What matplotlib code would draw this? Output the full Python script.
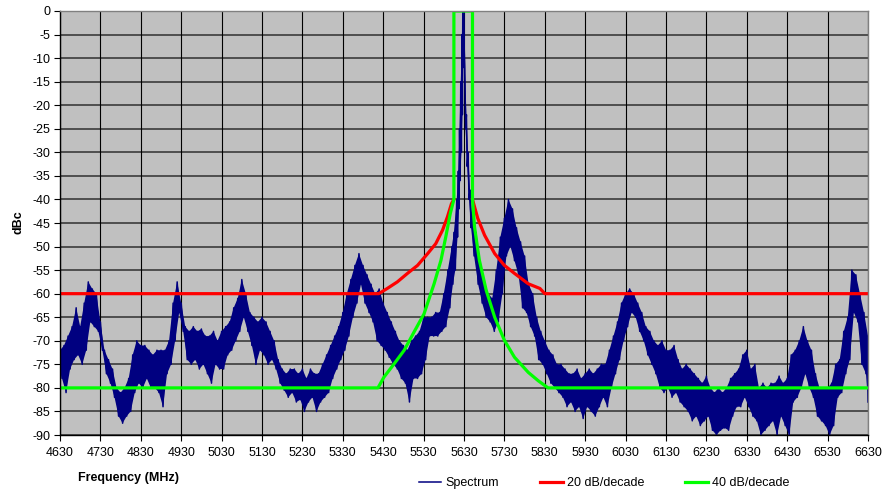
import numpy as np
import matplotlib
matplotlib.use("Agg")
import matplotlib.pyplot as plt

plt.rcParams['font.family'] = ['Liberation Sans', 'DejaVu Sans']

# Measured spectrum: upper and lower level of the trace at each frequency (MHz, dBc)
freq_mhz = [
    4630, 4640, 4650, 4660, 4670, 4680, 4690, 4700, 4710, 4720,
    4730, 4740, 4750, 4760, 4770, 4780, 4790, 4800, 4810, 4820,
    4830, 4840, 4850, 4860, 4870, 4880, 4890, 4900, 4910, 4920,
    4930, 4940, 4950, 4960, 4970, 4980, 4990, 5000, 5010, 5020,
    5030, 5040, 5050, 5060, 5070, 5080, 5090, 5100, 5110, 5120,
    5130, 5140, 5150, 5160, 5170, 5180, 5190, 5200, 5210, 5220,
    5230, 5240, 5250, 5260, 5270, 5280, 5290, 5300, 5310, 5320,
    5330, 5340, 5350, 5360, 5370, 5380, 5390, 5400, 5410, 5420,
    5430, 5440, 5450, 5460, 5470, 5480, 5490, 5500, 5510, 5520,
    5530, 5540, 5550, 5560, 5570, 5580, 5590, 5600, 5605, 5612,
    5616, 5619, 5622, 5625, 5627, 5629, 5632, 5636, 5640, 5645,
    5650, 5660, 5670, 5680, 5690, 5700, 5710, 5720, 5730, 5740,
    5750, 5760, 5770, 5780, 5790, 5800, 5810, 5820, 5830, 5840,
    5850, 5860, 5870, 5880, 5890, 5900, 5910, 5920, 5930, 5940,
    5950, 5960, 5970, 5980, 5990, 6000, 6010, 6020, 6030, 6040,
    6050, 6060, 6070, 6080, 6090, 6100, 6110, 6120, 6130, 6140,
    6150, 6160, 6170, 6180, 6190, 6200, 6210, 6220, 6230, 6240,
    6250, 6260, 6270, 6280, 6290, 6300, 6310, 6320, 6330, 6340,
    6350, 6360, 6370, 6380, 6390, 6400, 6410, 6420, 6430, 6440,
    6450, 6460, 6470, 6480, 6490, 6500, 6510, 6520, 6530, 6540,
    6550, 6560, 6570, 6580, 6590, 6600, 6610, 6620, 6630,
]
level_hi = [
    -72, -71, -69, -67, -63, -67, -62, -57.5, -59, -60,
    -66, -72, -74, -76, -80, -81, -80, -78, -73, -70,
    -71, -71, -72, -73, -72, -72, -72, -70, -62, -57.5,
    -62, -67, -68, -67, -68, -67.5, -69, -69, -68, -70,
    -68, -67, -66, -63, -61, -57, -60, -64, -65, -66,
    -65, -66, -68, -70, -74, -76, -77, -76, -76, -77,
    -76, -78, -76, -77, -77, -75, -73, -71, -69, -67,
    -64, -60, -57, -54, -51.5, -54, -56, -58, -60, -59,
    -62, -64, -66, -68, -70, -71, -72, -70, -69, -68,
    -65, -65, -65, -64, -64, -60, -55, -50, -47, -40,
    -34, -25, -15, -5, 0, 0, -12, -22, -30, -38,
    -43, -47, -53, -57, -60, -61, -55, -48, -44, -40,
    -42, -46, -49, -52, -58, -60, -65, -68, -70, -72,
    -73, -75, -75, -76, -77, -77, -76, -78, -77, -76,
    -77, -76, -75, -75, -72, -69, -66, -62, -60, -59,
    -60, -62, -64, -67, -68, -70, -71, -70, -72, -72,
    -71, -74, -76, -75, -76, -77, -78, -79, -77.5, -80,
    -81, -80, -81, -80, -78, -77, -76, -73, -72, -76,
    -75, -80, -79, -80, -79, -79, -77.5, -79, -78, -73,
    -72, -70, -67, -70, -72, -77, -80, -80, -80, -79,
    -75, -74, -68, -65, -55, -56, -60, -64, -69,
]
level_lo = [
    -78, -81, -76, -74, -73, -75, -72, -66, -67, -68,
    -72, -77, -79, -82, -86, -87.5, -86, -85, -81, -79,
    -80, -78, -80, -80, -81, -84, -77, -75, -70, -64,
    -68, -74, -75, -74, -76, -75, -77, -79, -75, -76,
    -76, -73, -72, -70, -68, -65, -68, -71, -75, -72,
    -73, -75, -74, -76, -79, -80.5, -82, -81, -83, -82.5,
    -85, -83, -82, -85, -83, -82, -81, -78, -76, -74,
    -72, -69, -65, -62, -58, -62, -64, -66, -70, -71,
    -72, -73.5, -75, -76, -78, -79, -83, -78, -78, -77,
    -74, -69, -69, -69, -68, -67, -63, -58, -55, -48,
    -42, -36, -30, -22, -12, -8, -25, -33, -40, -46,
    -52, -58, -62, -65, -66, -68, -66, -60, -52, -50,
    -53, -56, -63, -64, -67, -69, -74, -75, -77, -79,
    -80, -81, -82, -84, -83, -85, -84, -86.5, -84, -85,
    -86, -84, -82, -84, -80, -77, -74, -70, -67, -64,
    -65, -68, -70, -73, -75, -77, -80, -81, -80, -82,
    -81, -83, -84, -85, -87, -86, -88, -87, -86, -89,
    -90, -89, -88.5, -89, -86, -84, -84, -82, -84, -86,
    -87, -90, -89, -88, -87, -90, -86, -88, -90, -83,
    -82, -80, -77, -80, -82, -86, -87, -88, -90, -88,
    -82, -81, -77, -74, -64, -66, -75, -77, -83,
]

# 20 dB/decade mask (left and right skirts, broken at the carrier)
mask20_freq = [4630, 5419, 5440, 5465, 5490, 5515, 5540, 5560, 5577, 5589, 5599, 5605,
               np.nan,
               5651, 5664, 5681, 5706, 5730, 5755, 5789, 5818, 5830, 6630]
mask20_level = [-60, -60, -58.9, -57.5, -55.7, -54, -51.5, -49.4, -46.5, -43.7, -40.9, -40,
                np.nan,
                -40, -44, -47.6, -51.5, -54, -55.7, -57.9, -58.9, -60, -60]

# 40 dB/decade mask
mask40_freq = [4630, 5417, 5432, 5457, 5482, 5506, 5531, 5556, 5573, 5585, 5596, 5605,
               5605, 5651, 5651, 5656, 5668, 5685, 5706, 5730, 5755, 5789, 5814, 5838, 6630]
mask40_level = [-80, -80, -77.7, -74.9, -72, -68.2, -64.3, -57.9, -52.9, -47.9, -43, -40,
                0, 0, -40, -45.8, -52.9, -59.3, -65, -69.9, -73.5, -76.7, -78.5, -80, -80]

x_ticks = list(range(4630, 6631, 100))
y_ticks = list(range(-90, 1, 5))

NAVY = '#000080'

fig = plt.figure(figsize=(8.86, 4.91), dpi=100)
ax = fig.add_axes([60 / 886, 1 - 435 / 491, 808 / 886, 424 / 491])
ax.set_facecolor('#C0C0C0')

# Trace: filled band between the upper and lower levels, outlined by a dense zig-zag
f = np.asarray(freq_mhz, dtype=float)
mid = np.append((f[:-1] + f[1:]) / 2, f[-1])
band_x = np.concatenate([f, mid[::-1]])
band_y = np.concatenate([level_hi, level_lo[::-1]])
ax.fill(band_x, band_y, color=NAVY, lw=0, zorder=3)
xs = np.column_stack([f, mid]).ravel()
ys = np.column_stack([level_hi, level_lo]).ravel()
ax.plot(xs, ys, color=NAVY, lw=1.1, zorder=3, label='Spectrum')

ax.plot(mask20_freq, mask20_level, color='#FF0000', lw=2.3, zorder=4, label='20 dB/decade')
ax.plot(mask40_freq, mask40_level, color='#00FF00', lw=2.3, zorder=5, label='40 dB/decade')

ax.set_xlim(4630, 6630)
ax.set_ylim(-90, 0)
ax.set_xticks(x_ticks)
ax.set_yticks(y_ticks)
ax.set_xticklabels([str(t) for t in x_ticks], fontsize=9)
ax.set_yticklabels([str(t) for t in y_ticks], fontsize=9)
ax.tick_params(axis='both', direction='out', length=4, width=0.8, color='black')
ax.tick_params(axis='x', pad=5)
ax.tick_params(axis='y', pad=3)

for t in y_ticks:
    ax.axhline(t, color='#303030', lw=1.1, zorder=1)
for t in x_ticks:
    ax.axvline(t, color='#000000', lw=0.8, zorder=1)

ax.spines['left'].set_color('black')
ax.spines['bottom'].set_color('black')
ax.spines['top'].set_color('#808080')
ax.spines['right'].set_color('#808080')
for s in ax.spines.values():
    s.set_linewidth(1.0)
    s.set_zorder(6)

fig.text(19 / 886, 1 - 222 / 491, 'dBc', rotation=90, fontsize=9, fontweight='bold',
         ha='center', va='center')
fig.text(78 / 886, 1 - 478 / 491, 'Frequency (MHz)', fontsize=9, fontweight='bold',
         ha='left', va='center')

fig.legend(loc='center', bbox_to_anchor=(604 / 886, 1 - 483 / 491), ncol=3, frameon=False,
           fontsize=9, handlelength=1.8, handletextpad=0.32, columnspacing=3.3,
           borderaxespad=0, borderpad=0)

fig.savefig('out.png', dpi=100, facecolor='white')
